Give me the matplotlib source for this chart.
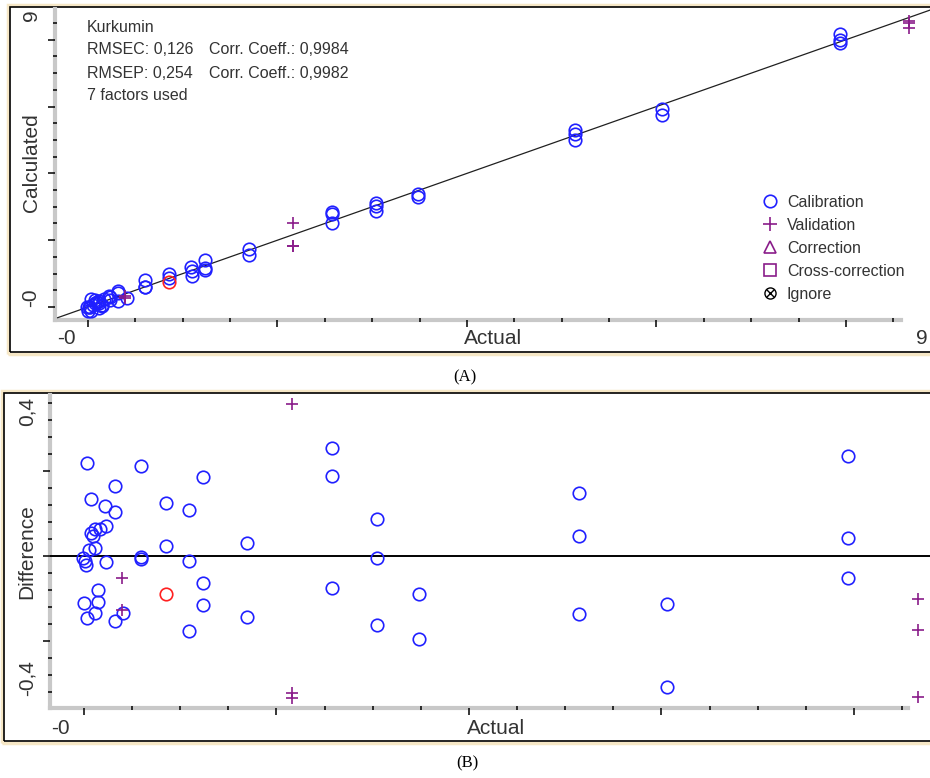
import numpy as np
import matplotlib
matplotlib.use("Agg")
import matplotlib.pyplot as plt
from matplotlib.patches import Rectangle
from matplotlib.lines import Line2D

plt.rcParams["font.family"] = ["Liberation Sans", "DejaVu Sans"]

# calibration samples: actual value and difference (calculated - actual)
cal_actual = [0.034, 0.070, 0.322, 0.218, 0.322, 0.597, 0.852, 1.233, 1.091,
              0.070, 0.114, 0.166, 0.229, 0.094, 0.055, 0.114, -0.007, 0.010,
              0.021, 0.229, 0.597, 0.597, 0.852, 1.094, 1.697, 1.233, 1.233,
              0.149, 0.149, 0.000, 0.114, 0.034, 0.322, 0.408, 1.697, 1.094,
              2.580, 2.580, 2.580, 3.041, 3.041, 3.041, 3.481, 3.481,
              5.143, 5.143, 5.143, 6.054, 6.054, 7.941, 7.941, 7.941]
cal_diff = [0.218, 0.133, 0.165, 0.118, 0.104, 0.212, 0.124, 0.185, 0.109,
            0.053, 0.063, 0.063, 0.071, 0.047, 0.014, 0.018, -0.005, -0.013,
            -0.021, -0.015, -0.003, -0.007, 0.024, -0.011, 0.030, -0.064, -0.115,
            -0.080, -0.108, -0.110, -0.135, -0.147, -0.152, -0.135, -0.143, -0.176,
            0.255, 0.189, -0.076, 0.087, -0.004, -0.162, -0.090, -0.195,
            0.149, 0.047, -0.137, -0.113, -0.309, 0.236, 0.043, -0.051]

# validation samples
val_actual = [0.391, 0.391, 2.16, 2.16, 2.16, 8.67, 8.67, 8.67]
val_diff = [-0.053, -0.128, 0.358, -0.322, -0.334, -0.102, -0.174, -0.331]

# flagged calibration sample (red)
flag_actual = [0.852]
flag_diff = [-0.089]

cal_calc = np.array(cal_actual) + np.array(cal_diff)
val_calc = np.array(val_actual) + np.array(val_diff)
flag_calc = np.array(flag_actual) + np.array(flag_diff)

stats_left = ["Kurkumin", "RMSEC: 0,126", "RMSEP: 0,254", "7 factors used"]
stats_right = ["", "Corr. Coeff.: 0,9984", "Corr. Coeff.: 0,9982", ""]
legend_labels = ["Calibration", "Validation", "Correction", "Cross-correction", "Ignore"]

BLUE = "#2020ff"
PURPLE = "#8a1c8a"
RED = "#ff2020"
GREY = "#c8c8c8"
TXT = "#333333"

W, H = 930, 778
fig = plt.figure(figsize=(W / 100, H / 100), dpi=100)
fig.patch.set_facecolor("white")


def fx(px):
    return px / W


def fy(py):
    return 1 - py / H


def frame(x0, y0, y1):
    # beige outer edge + black border, right side runs off the image
    fig.add_artist(Rectangle((fx(x0 - 2), fy(y1 + 2)), fx(960) - fx(x0 - 2), (y1 - y0 + 4) / H,
                             transform=fig.transFigure, fill=False, ec="#f6e7c6", lw=2.5, zorder=-2))
    fig.add_artist(Rectangle((fx(x0), fy(y1)), fx(960) - fx(x0), (y1 - y0) / H,
                             transform=fig.transFigure, fill=False, ec="black", lw=1.2, zorder=-1))


frame(10, 7, 352)
frame(4, 393, 741)


def style_axes(ax, xlim, ylim, xmaj, xmin, ymaj, ymin, xend):
    ax.set_facecolor("none")
    ax.set_xlim(*xlim)
    ax.set_ylim(*ylim)
    for s in ("top", "right"):
        ax.spines[s].set_visible(False)
    for s in ("left", "bottom"):
        ax.spines[s].set_color(GREY)
        ax.spines[s].set_linewidth(3)
        ax.spines[s].set_zorder(0.5)
    ax.spines["bottom"].set_bounds(xlim[0], xend)
    ax.set_xticks(np.arange(0, xend, xmaj))
    ax.set_xticks(np.arange(0, xend, xmin), minor=True)
    yt = np.arange(-ymaj * 10, ylim[1], ymaj)
    ax.set_yticks(yt[yt > ylim[0]])
    yt = np.arange(-ymin * 100, ylim[1], ymin)
    ax.set_yticks(yt[yt > ylim[0]], minor=True)
    ax.tick_params(which="both", color="black", width=1.1, labelleft=False, labelbottom=False)
    ax.tick_params(which="major", direction="out", length=5)
    ax.tick_params(which="minor", direction="inout", length=3)


# ---- (A) calculated vs actual
ax1 = fig.add_axes([fx(55), fy(320), fx(930) - fx(55), (320 - 9) / H])
style_axes(ax1, (-0.348, 8.887), (-0.389, 8.92), 2, 0.5, 2, 0.5, 8.58)
ax1.plot([-0.32, 9.0], [-0.32, 9.0], color="#202020", lw=0.9, zorder=1)
ax1.plot(cal_actual, cal_calc, "o", ms=9, mfc="none", mec=BLUE, mew=1.2, zorder=2)
ax1.plot(flag_actual, flag_calc, "o", ms=9, mfc="none", mec=RED, mew=1.2, zorder=3)
ax1.plot(val_actual, val_calc, "+", ms=9, color=PURPLE, mew=1.2, zorder=3)

for i, (a, b) in enumerate(zip(stats_left, stats_right)):
    y = fy(27 + 23 * i)
    fig.text(fx(87), y, a, fontsize=11.5, color=TXT, va="center")
    if b:
        fig.text(fx(209), y, b, fontsize=11.5, color=TXT, va="center")

ignore = (Line2D([], [], ls="none", marker="o", ms=8, mfc="none", mec="black", mew=1.0),
          Line2D([], [], ls="none", marker="x", ms=6, color="black", mew=1.0))
handles = [
    Line2D([], [], ls="none", marker="o", ms=9, mfc="none", mec=BLUE, mew=1.2),
    Line2D([], [], ls="none", marker="+", ms=10, color=PURPLE, mew=1.2),
    Line2D([], [], ls="none", marker="^", ms=9, mfc="none", mec=PURPLE, mew=1.2),
    Line2D([], [], ls="none", marker="s", ms=9, mfc="none", mec=PURPLE, mew=1.2),
    ignore,
]
ax1.legend(handles, legend_labels, loc="upper left", bbox_to_anchor=(fx(762), fy(195)),
           bbox_transform=fig.transFigure, frameon=False, fontsize=11.5, labelcolor=TXT,
           handlelength=1.0, handletextpad=0.55, labelspacing=0.5, borderpad=0, borderaxespad=0)

fig.text(fx(31), fy(15), "9", rotation=90, fontsize=15, color=TXT, ha="center", va="center")
fig.text(fx(31), fy(163), "Calculated", rotation=90, fontsize=15, color=TXT, ha="center", va="center")
fig.text(fx(31), fy(298), "-0", rotation=90, fontsize=15, color=TXT, ha="center", va="center")
fig.text(fx(66), fy(339), "-0", fontsize=15, color=TXT, ha="center", va="center")
fig.text(fx(493), fy(339), "Actual", fontsize=15, color=TXT, ha="center", va="center")
fig.text(fx(922), fy(339), "9", fontsize=15, color=TXT, ha="center", va="center")
fig.text(fx(465), fy(377), "(A)", fontsize=12, family="Liberation Serif", ha="center", va="center")

# ---- (B) difference vs actual
ax2 = fig.add_axes([fx(50), fy(708), fx(930) - fx(50), (708 - 395) / H])
style_axes(ax2, (-0.353, 8.79), (-0.358, 0.379), 2, 0.5, 0.2, 0.04, 8.56)
ax2.axhline(0, color="black", lw=1.4, zorder=1)
ax2.plot(cal_actual, cal_diff, "o", ms=9, mfc="none", mec=BLUE, mew=1.2, zorder=2)
ax2.plot(flag_actual, flag_diff, "o", ms=9, mfc="none", mec=RED, mew=1.2, zorder=3)
ax2.plot(val_actual, val_diff, "+", ms=9, color=PURPLE, mew=1.2, zorder=3)

fig.text(fx(27), fy(412), "0,4", rotation=90, fontsize=15, color=TXT, ha="center", va="center")
fig.text(fx(27), fy(552), "Difference", rotation=90, fontsize=15, color=TXT, ha="center", va="center")
fig.text(fx(27), fy(678), "-0,4", rotation=90, fontsize=15, color=TXT, ha="center", va="center")
fig.text(fx(60), fy(728), "-0", fontsize=15, color=TXT, ha="center", va="center")
fig.text(fx(496), fy(728), "Actual", fontsize=15, color=TXT, ha="center", va="center")
fig.text(fx(467), fy(763), "(B)", fontsize=12, family="Liberation Serif", ha="center", va="center")

fig.savefig("out.png", dpi=100)
